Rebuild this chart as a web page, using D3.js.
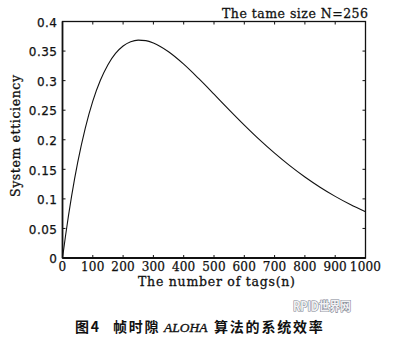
<!DOCTYPE html>
<html>
<head>
<meta charset="utf-8">
<script src="https://cdn.jsdelivr.net/npm/d3@7/dist/d3.min.js"></script>
<style>
  html, body { margin: 0; padding: 0; background: #fff; }
  svg { display: block; }
</style>
</head>
<body>
<svg id="chart" width="393" height="342"></svg>
<script>
// Number of tags n in one read cycle
const tags = [0, 10, 20, 30, 40, 50, 75, 100, 125, 150, 175, 200, 225, 250, 275, 300,
              350, 400, 450, 500, 550, 600, 650, 700, 750, 800, 850, 900, 950, 1000];
// System efficiency of framed-slotted ALOHA with frame size N = 256
const efficiency = [0, 0.0377, 0.0725, 0.1046, 0.1341, 0.1612, 0.2193, 0.2652, 0.3005, 0.3270,
                    0.3460, 0.3586, 0.3658, 0.3685, 0.3676, 0.3636, 0.3488, 0.3278, 0.3032,
                    0.2771, 0.2506, 0.2248, 0.2002, 0.1773, 0.1562, 0.1370, 0.1197, 0.1042,
                    0.0904, 0.0783];
const xTicks = [0, 100, 200, 300, 400, 500, 600, 700, 800, 900, 1000];
const yTicks = [0, 0.05, 0.1, 0.15, 0.2, 0.25, 0.3, 0.35, 0.4];
const yTickLabels = ["0", "0.05", "0.1", "0.15", "0.2", "0.25", "0.3", "0.35", "0.4"];

const svg = d3.select("#chart");
const L = 62.5, R = 365.5, T = 21.5, B = 258;

const x = d3.scaleLinear().domain([0, 1000]).range([L, R]);
const y = d3.scaleLinear().domain([0, 0.4]).range([B, T]);

const serif = "'DejaVu Serif', 'Liberation Serif', serif";
const sans = "'DejaVu Sans', 'Liberation Sans', sans-serif";
const ink = "#111";

// Inward ticks on all four sides
const tickLen = 3;
const g = svg.append("g").attr("stroke", ink).attr("stroke-width", 1);
xTicks.forEach(v => {
  g.append("line").attr("x1", x(v)).attr("x2", x(v)).attr("y1", B).attr("y2", B - tickLen);
  g.append("line").attr("x1", x(v)).attr("x2", x(v)).attr("y1", T).attr("y2", T + tickLen);
});
yTicks.forEach(v => {
  g.append("line").attr("x1", L).attr("x2", L + tickLen).attr("y1", y(v)).attr("y2", y(v));
  g.append("line").attr("x1", R).attr("x2", R - tickLen).attr("y1", y(v)).attr("y2", y(v));
});

// Plot frame
svg.append("rect")
  .attr("x", L).attr("y", T).attr("width", R - L).attr("height", B - T)
  .attr("fill", "none").attr("stroke", ink).attr("stroke-width", 1.3);
svg.append("line")
  .attr("x1", L).attr("x2", R).attr("y1", B).attr("y2", B)
  .attr("stroke", ink).attr("stroke-width", 2);
svg.append("line")
  .attr("x1", L).attr("x2", L).attr("y1", T).attr("y2", B)
  .attr("stroke", ink).attr("stroke-width", 1.6);

// Efficiency curve
const line = d3.line()
  .x((d, i) => x(tags[i]))
  .y(d => y(d))
  .curve(d3.curveMonotoneX);
svg.append("path")
  .datum(efficiency)
  .attr("d", line)
  .attr("fill", "none")
  .attr("stroke", ink)
  .attr("stroke-width", 1.1);

// Slightly heavy strokes on the lettering
function heavy(sel, w) {
  return sel.attr("fill", ink).attr("stroke", ink).attr("stroke-width", w);
}

// Tick labels
heavy(svg.append("g"), 0.25).selectAll("text")
  .data(yTicks)
  .join("text")
  .attr("x", 57.5)
  .attr("y", d => y(d) + 1)
  .attr("dy", "0.35em")
  .attr("text-anchor", "end")
  .attr("font-family", sans)
  .attr("font-size", 12)
  .attr("letter-spacing", 0.5)
  .text((d, i) => yTickLabels[i]);

heavy(svg.append("g"), 0.25).selectAll("text")
  .data(xTicks)
  .join("text")
  .attr("x", d => x(d))
  .attr("y", 271)
  .attr("text-anchor", "middle")
  .attr("font-family", serif)
  .attr("font-size", 12)
  .attr("letter-spacing", 0.2)
  .text(d => d);

// Title and axis titles
heavy(svg.append("text"), 0.3)
  .attr("x", 222).attr("y", 18)
  .attr("font-family", serif).attr("font-size", 12.5)
  .attr("textLength", 146).attr("lengthAdjust", "spacing")
  .text("The tame size N=256");

heavy(svg.append("text"), 0.3)
  .attr("x", 138).attr("y", 286)
  .attr("font-family", serif).attr("font-size", 12.5)
  .attr("textLength", 157).attr("lengthAdjust", "spacing")
  .text("The number of tags(n)");

heavy(svg.append("text"), 0.3)
  .attr("transform", "translate(20,197) rotate(-90)")
  .attr("font-family", serif).attr("font-size", 12.5)
  .attr("textLength", 122).attr("lengthAdjust", "spacing")
  .text("System etticiency");

// Site mark
svg.append("text")
  .attr("x", 293).attr("y", 311)
  .attr("font-family", "'Noto Sans CJK SC', sans-serif")
  .attr("font-size", 12.5).attr("font-weight", 700)
  .attr("textLength", 58).attr("lengthAdjust", "spacingAndGlyphs")
  .attr("fill", "#f2f2f4")
  .attr("stroke", "#7d8290").attr("stroke-width", 1.2)
  .attr("paint-order", "stroke")
  .text("RPID世界网");

// Figure caption
const cap = svg.append("text")
  .attr("y", 332)
  .attr("font-family", "'Noto Sans CJK SC', sans-serif")
  .attr("font-size", 14).attr("font-weight", 700)
  .attr("letter-spacing", 1.8)
  .attr("fill", ink);
cap.append("tspan").attr("x", 75).text("图4");
cap.append("tspan").attr("x", 113).text("帧时隙");
cap.append("tspan").attr("x", 164)
  .attr("font-family", "'Liberation Serif', serif").attr("font-style", "italic")
  .attr("font-weight", 400).attr("font-size", 13.5)
  .attr("stroke", ink).attr("stroke-width", 0.35)
  .attr("letter-spacing", 0)
  .text("ALOHA");
cap.append("tspan").attr("x", 214).text("算法的系统效率");
</script>
</body>
</html>
